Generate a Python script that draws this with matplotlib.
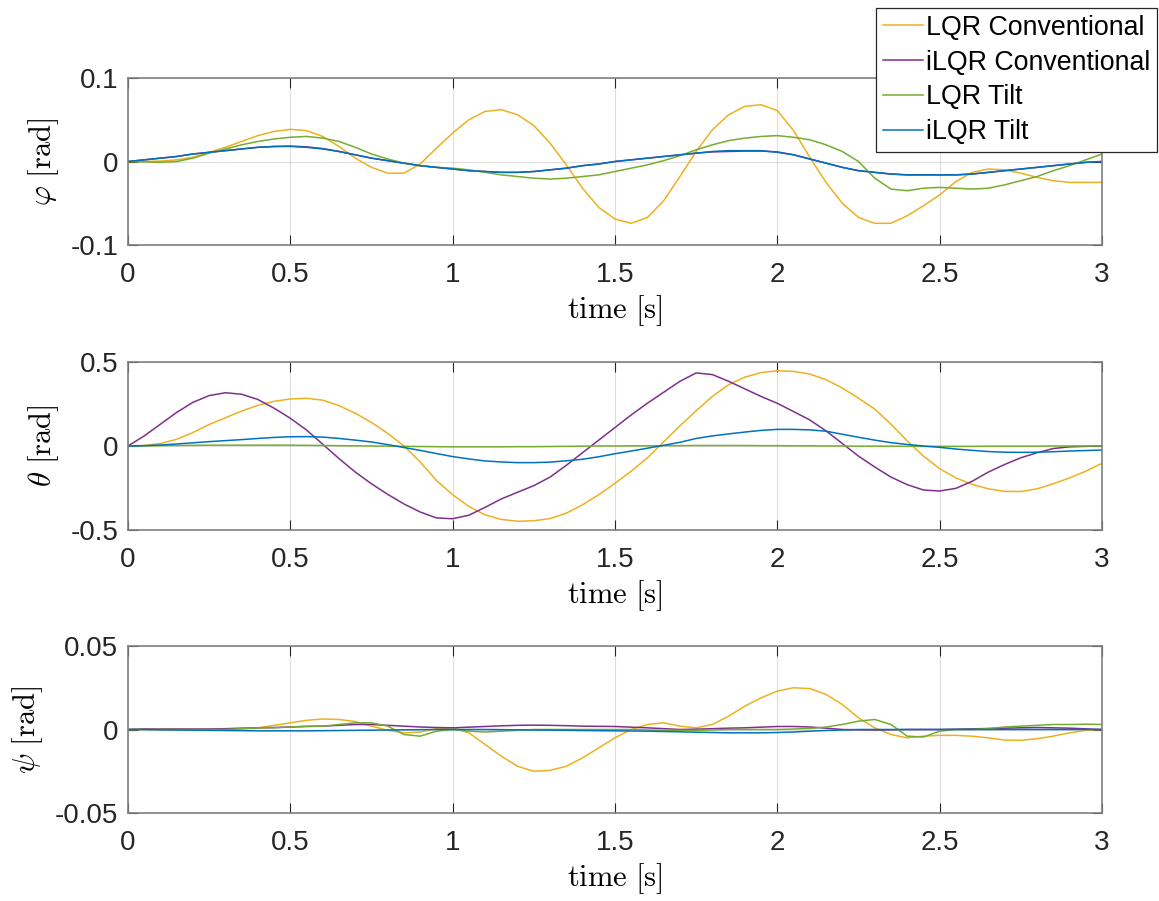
import numpy as np
import matplotlib
matplotlib.use('Agg')
import matplotlib.pyplot as plt

plt.rcParams['font.family'] = ['Liberation Sans', 'DejaVu Sans']
plt.rcParams['mathtext.fontset'] = 'cm'
plt.rcParams['axes.unicode_minus'] = False

# time samples [s]
time = np.round(np.arange(61) * 0.05, 2)

series_names = ['LQR Conventional', 'iLQR Conventional', 'LQR Tilt', 'iLQR Tilt']
series_colors = ['#EDB120', '#7E2F8E', '#77AC30', '#0072BD']

# roll angle phi [rad]
phi_lqr_conv = [0, 0.0, 0.0005, 0.002, 0.005, 0.011, 0.017, 0.024, 0.031, 0.036,
                0.0385, 0.037, 0.030, 0.018, 0.004, -0.007, -0.014, -0.014, -0.003, 0.016,
                0.034, 0.050, 0.060, 0.062, 0.056, 0.043, 0.022, -0.004, -0.032, -0.055,
                -0.069, -0.074, -0.067, -0.047, -0.018, 0.012, 0.038, 0.056, 0.066, 0.068,
                0.061, 0.037, 0.005, -0.025, -0.050, -0.067, -0.074, -0.074, -0.065, -0.053,
                -0.040, -0.024, -0.013, -0.009, -0.010, -0.014, -0.019, -0.023, -0.025, -0.025,
                -0.025]
phi_ilqr_conv = [0, 0.002, 0.004, 0.006, 0.009, 0.011, 0.013, 0.015, 0.017, 0.018,
                 0.0185, 0.0175, 0.0155, 0.012, 0.008, 0.004, 0.001, -0.002, -0.005, -0.007,
                 -0.009, -0.011, -0.012, -0.013, -0.013, -0.012, -0.010, -0.008, -0.005, -0.003,
                 0.000, 0.002, 0.004, 0.006, 0.008, 0.010, 0.0115, 0.012, 0.0125, 0.0125,
                 0.0115, 0.008, 0.003, -0.002, -0.007, -0.011, -0.013, -0.015, -0.016, -0.016,
                 -0.016, -0.016, -0.015, -0.013, -0.011, -0.009, -0.007, -0.005, -0.003, -0.001,
                 0.000]
phi_lqr_tilt = [0, -0.0005, -0.001, 0.0, 0.004, 0.010, 0.015, 0.020, 0.024, 0.027,
                0.029, 0.030, 0.028, 0.024, 0.017, 0.009, 0.003, -0.002, -0.005, -0.007,
                -0.008, -0.010, -0.013, -0.016, -0.018, -0.020, -0.021, -0.020, -0.018, -0.016,
                -0.012, -0.008, -0.004, 0.001, 0.007, 0.014, 0.020, 0.025, 0.028, 0.030,
                0.031, 0.029, 0.026, 0.020, 0.012, 0.000, -0.020, -0.033, -0.035, -0.032,
                -0.031, -0.032, -0.033, -0.032, -0.028, -0.023, -0.018, -0.011, -0.005, 0.002,
                0.009]
phi_ilqr_tilt = [0, 0.002, 0.004, 0.006, 0.009, 0.011, 0.013, 0.015, 0.017, 0.018,
                 0.018, 0.017, 0.015, 0.012, 0.008, 0.004, 0.001, -0.002, -0.005, -0.007,
                 -0.009, -0.011, -0.012, -0.013, -0.013, -0.012, -0.010, -0.008, -0.005, -0.003,
                 0.000, 0.002, 0.004, 0.006, 0.008, 0.010, 0.012, 0.013, 0.013, 0.013,
                 0.011, 0.008, 0.003, -0.002, -0.007, -0.011, -0.013, -0.015, -0.016, -0.016,
                 -0.016, -0.016, -0.015, -0.013, -0.011, -0.009, -0.007, -0.005, -0.003, -0.001,
                 0.000]

# pitch angle theta [rad]
theta_lqr_conv = [0, 0.003, 0.015, 0.040, 0.080, 0.128, 0.168, 0.208, 0.242, 0.266,
                  0.280, 0.284, 0.273, 0.240, 0.195, 0.140, 0.075, 0.000, -0.095, -0.205,
                  -0.290, -0.360, -0.410, -0.437, -0.448, -0.445, -0.432, -0.400, -0.350, -0.290,
                  -0.222, -0.150, -0.070, 0.025, 0.120, 0.210, 0.295, 0.365, 0.410, 0.437,
                  0.448, 0.444, 0.428, 0.395, 0.345, 0.285, 0.220, 0.130, 0.030, -0.060,
                  -0.135, -0.190, -0.228, -0.255, -0.270, -0.271, -0.255, -0.225, -0.190, -0.150,
                  -0.103]
theta_ilqr_conv = [0, 0.060, 0.130, 0.200, 0.260, 0.300, 0.317, 0.308, 0.277, 0.225,
                   0.165, 0.095, 0.010, -0.075, -0.155, -0.225, -0.288, -0.345, -0.393, -0.428,
                   -0.433, -0.412, -0.365, -0.315, -0.275, -0.236, -0.185, -0.115, -0.040, 0.035,
                   0.110, 0.185, 0.255, 0.320, 0.385, 0.435, 0.425, 0.385, 0.340, 0.295,
                   0.254, 0.205, 0.155, 0.090, 0.015, -0.060, -0.125, -0.185, -0.230, -0.262,
                   -0.268, -0.252, -0.210, -0.155, -0.110, -0.070, -0.040, -0.015, -0.005, -0.002,
                   0.000]
theta_lqr_tilt = [0, 0.001, 0.002, 0.003, 0.004, 0.005, 0.005, 0.005, 0.005, 0.005,
                  0.005, 0.004, 0.003, 0.002, 0.001, 0.000, -0.001, -0.002, -0.003, -0.004,
                  -0.005, -0.005, -0.005, -0.005, -0.004, -0.004, -0.003, -0.002, -0.001, 0.000,
                  0.000, 0.001, 0.001, 0.002, 0.002, 0.003, 0.003, 0.003, 0.003, 0.002,
                  0.002, 0.001, 0.001, 0.000, 0.000, -0.001, -0.001, -0.001, -0.002, -0.002,
                  -0.002, -0.002, -0.002, -0.001, -0.001, -0.001, -0.001, 0.000, 0.000, 0.000,
                  0.000]
theta_ilqr_tilt = [0, 0.002, 0.006, 0.012, 0.019, 0.026, 0.032, 0.038, 0.045, 0.051,
                   0.055, 0.056, 0.053, 0.045, 0.035, 0.024, 0.008, -0.009, -0.026, -0.045,
                   -0.063, -0.077, -0.089, -0.095, -0.099, -0.099, -0.096, -0.088, -0.079, -0.064,
                   -0.046, -0.030, -0.013, 0.004, 0.022, 0.045, 0.060, 0.072, 0.083, 0.093,
                   0.099, 0.099, 0.096, 0.088, 0.070, 0.052, 0.035, 0.020, 0.009, 0.000,
                   -0.008, -0.018, -0.026, -0.033, -0.037, -0.038, -0.037, -0.034, -0.030, -0.027,
                   -0.024]

# yaw angle psi [rad]
psi_lqr_conv = [0, 0, 0, 0, 0, 0, 0.0002, 0.0003, 0.001, 0.0025,
                0.004, 0.0055, 0.0063, 0.006, 0.0048, 0.002, -0.0005, -0.002, -0.0015, 0.0005,
                0.001, -0.002, -0.009, -0.016, -0.022, -0.025, -0.0245, -0.022, -0.017, -0.011,
                -0.005, 0.0, 0.003, 0.004, 0.002, 0.001, 0.003, 0.008, 0.014, 0.019,
                0.023, 0.025, 0.0245, 0.021, 0.015, 0.007, 0.001, -0.003, -0.005, -0.004,
                -0.0035, -0.0035, -0.004, -0.005, -0.0063, -0.0065, -0.0055, -0.004, -0.002, -0.0005,
                0.0]
psi_ilqr_conv = [0, 0.0003, 0.0003, 0.0003, 0.0003, 0.0003, 0.0005, 0.0008, 0.001, 0.0012,
                 0.0015, 0.0018, 0.002, 0.0025, 0.003, 0.003, 0.0025, 0.002, 0.0015, 0.0012,
                 0.001, 0.0014, 0.0018, 0.0022, 0.0025, 0.0026, 0.0025, 0.0023, 0.002, 0.0019,
                 0.0018, 0.0014, 0.001, 0.0005, 0.0, 0.0002, 0.0005, 0.0008, 0.001, 0.0014,
                 0.0018, 0.0018, 0.0015, 0.0008, 0.0, -0.0002, -0.0003, -0.0002, 0.0, 0.0,
                 0.0, 0.0002, 0.0004, 0.0006, 0.0008, 0.001, 0.0012, 0.001, 0.0008, 0.0004,
                 0.0]
psi_lqr_tilt = [0, 0, 0, 0, 0, 0, 0, 0.0005, 0.001, 0.001,
                0.0015, 0.002, 0.002, 0.003, 0.004, 0.004, 0.002, -0.003, -0.004, -0.001,
                0.0, -0.001, -0.0015, -0.001, -0.0005, 0.0, 0.0, 0.0, 0.0, 0.0,
                0.0, 0.0, -0.0003, -0.0005, -0.0005, -0.0005, -0.0003, 0.0, 0.0, 0.0,
                0.0, 0.0003, 0.0006, 0.0015, 0.003, 0.005, 0.006, 0.003, -0.004, -0.0045,
                -0.001, 0.0, 0.0, 0.0005, 0.0015, 0.002, 0.0025, 0.003, 0.003, 0.0032,
                0.003]
psi_ilqr_tilt = [0, 0, -0.0002, -0.0003, -0.0004, -0.0005, -0.0006, -0.0007, -0.0008, -0.0008,
                 -0.0008, -0.0008, -0.0007, -0.0006, -0.0005, -0.0004, -0.0003, -0.0002, -0.0001, 0.0,
                 0.0, 0.0, 0.0, -0.0001, -0.0002, -0.0003, -0.0004, -0.0005, -0.0006, -0.0007,
                 -0.0008, -0.0009, -0.001, -0.0012, -0.0014, -0.0016, -0.0018, -0.002, -0.002, -0.002,
                 -0.0018, -0.0015, -0.001, -0.0006, -0.0003, 0.0, 0.0, 0.0, 0.0, 0.0,
                 0.0, 0.0, 0.0, 0.0, 0.0, 0.0, 0.0, 0.0, 0.0, 0.0,
                 0.0]

panels = [
    (r'$\varphi\ \mathrm{[rad]}$', [phi_lqr_conv, phi_ilqr_conv, phi_lqr_tilt, phi_ilqr_tilt],
     (-0.1, 0.1), [-0.1, 0, 0.1], ['-0.1', '0', '0.1']),
    (r'$\theta\ \mathrm{[rad]}$', [theta_lqr_conv, theta_ilqr_conv, theta_lqr_tilt, theta_ilqr_tilt],
     (-0.5, 0.5), [-0.5, 0, 0.5], ['-0.5', '0', '0.5']),
    (r'$\psi\ \mathrm{[rad]}$', [psi_lqr_conv, psi_ilqr_conv, psi_lqr_tilt, psi_ilqr_tilt],
     (-0.05, 0.05), [-0.05, 0, 0.05], ['-0.05', '0', '0.05']),
]

xticks = [0, 0.5, 1, 1.5, 2, 2.5, 3]
xticklabels = ['0', '0.5', '1', '1.5', '2', '2.5', '3']

W, H = 1159, 901
fig = plt.figure(figsize=(W / 100, H / 100), dpi=100)

# axes boxes in pixels: (top, bottom)
boxes = [(78, 245), (362, 530), (646, 813)]
left, right = 128, 1102

axes = []
for (top, bottom), (ylabel, data, ylim, yticks, yticklabels) in zip(boxes, panels):
    ax = fig.add_axes([left / W, 1 - bottom / H, (right - left) / W, (bottom - top) / H])
    for vals, name, col in zip(data, series_names, series_colors):
        ax.plot(time, vals, color=col, lw=1.1, label=name)
    ax.set_xlim(0, 3)
    ax.set_ylim(*ylim)
    ax.set_xticks(xticks)
    ax.set_xticklabels(xticklabels)
    ax.set_yticks(yticks)
    ax.set_yticklabels(yticklabels)
    ax.tick_params(direction='in', top=True, right=True, length=7, width=0.8,
                   color='#262626', labelsize=20, labelcolor='#262626')
    ax.tick_params(axis='x', pad=12)
    ax.tick_params(axis='y', pad=7)
    ax.grid(True, color='#262626', alpha=0.15, lw=0.8)
    for sp in ax.spines.values():
        sp.set_color('#808080')
        sp.set_linewidth(1.2)
    ax.set_xlabel(r'$\mathrm{time\ [s]}$', fontsize=22, labelpad=4)
    ax.set_ylabel(ylabel, fontsize=22, labelpad=7)
    axes.append(ax)

leg = axes[0].legend(loc='upper right', bbox_to_anchor=(1157 / W, 1 - 8 / H),
                     bbox_transform=fig.transFigure, fontsize=19.3, fancybox=False,
                     framealpha=1, edgecolor='#262626', borderpad=0.25, handlelength=1.5,
                     handletextpad=0.1, labelspacing=0.33, borderaxespad=0)
leg.get_frame().set_linewidth(0.9)
leg.set_zorder(10)

fig.savefig('out.png', dpi=100)
